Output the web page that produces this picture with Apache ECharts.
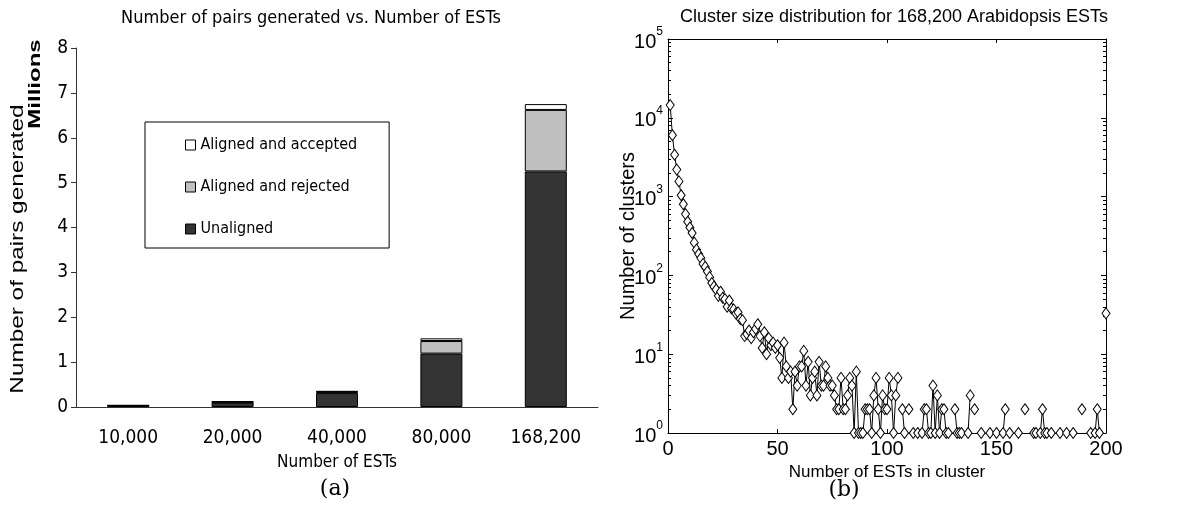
<!DOCTYPE html>
<html>
<head>
<meta charset="utf-8">
<script src="https://cdn.jsdelivr.net/npm/echarts@6/dist/echarts.min.js"></script>
<style>
  html, body { margin: 0; padding: 0; background: #fff; }
  #chart-container { width: 1198px; height: 506px; }
</style>
</head>
<body>
<div id="chart-container"></div>
<script>
// (a) pairs generated, in millions
var estCounts = ['10,000', '20,000', '40,000', '80,000', '168,200'];
var unaligned = [0.03, 0.10, 0.31, 1.19, 5.25];
var alignedRejected = [0.005, 0.015, 0.03, 0.28, 1.37];
var alignedAccepted = [0.002, 0.005, 0.015, 0.06, 0.13];

// (b) number of clusters for cluster sizes 1..200 (0 = none of that size)
var clusterCounts = [
  14500, 6000, 3400, 2200, 1560, 1040, 800, 600, 480, 405, 345, 260, 212, 187, 166, 140, 128, 112, 95, 80,
  72, 66, 55, 62, 52, 50, 40, 48, 38, 37, 33, 34, 28, 27, 17, 18, 20, 16, 19, 21,
  24, 17, 12, 19, 10, 16, 13, 14, 12, 13, 9, 5, 14, 7, 5, 6, 2, 6, 4, 7,
  7, 11, 4, 8, 3, 5, 6, 3, 8, 4, 4, 7, 5, 4, 4, 3, 2, 2, 5, 2,
  2, 3, 5, 4, 1, 6, 1, 1, 1, 2, 2, 2, 1, 3, 5, 2, 1, 3, 2, 2,
  5, 3, 1, 3, 5, 0, 2, 1, 0, 2, 0, 1, 0, 1, 0, 1, 2, 2, 1, 1,
  4, 1, 3, 1, 2, 2, 1, 1, 0, 0, 2, 1, 1, 1, 0, 0, 1, 3, 0, 2,
  0, 0, 1, 0, 0, 0, 1, 0, 0, 1, 0, 0, 1, 2, 0, 1, 0, 0, 0, 1,
  0, 0, 2, 0, 0, 0, 1, 1, 0, 1, 2, 1, 1, 0, 1, 0, 0, 0, 1, 0,
  0, 1, 0, 0, 1, 0, 0, 0, 2, 0, 0, 0, 1, 0, 1, 2, 1, 0, 0, 33
];

var narrow = "'Liberation Sans Narrow', 'DejaVu Sans Condensed', sans-serif";
var sans = "'Liberation Sans', Arial, sans-serif";
var serif = "'DejaVu Serif', 'Liberation Serif', serif";

var clusterData = clusterCounts.map(function (c, i) {
  return [i + 1, c > 0 ? c : '-'];
});

var dom = document.getElementById('chart-container');
var myChart = echarts.init(dom, null, { renderer: 'canvas' });

var barStyle = function (color) {
  return { color: color, borderColor: '#000', borderWidth: 1 };
};

var option = {
  animation: false,
  backgroundColor: '#fff',
  grid: [
    { left: 76, top: 48, width: 522, height: 359 },
    { left: 668, top: 39, width: 438, height: 394 }
  ],
  legend: {
    left: 145,
    top: 122,
    orient: 'vertical',
    icon: 'rect',
    itemWidth: 10,
    itemHeight: 10,
    itemGap: 24,
    padding: [14, 32, 10, 40],
    borderColor: '#000',
    borderWidth: 1,
    backgroundColor: '#fff',
    data: ['Aligned and accepted', 'Aligned and rejected', 'Unaligned'],
    itemStyle: { borderColor: '#000', borderWidth: 1 },
    textStyle: { fontFamily: narrow, fontSize: 16, color: '#000', lineHeight: 18 }
  },
  xAxis: [
    {
      type: 'category',
      gridIndex: 0,
      data: estCounts,
      name: 'Number of ESTs',
      nameLocation: 'middle',
      nameGap: 47,
      nameTextStyle: { fontFamily: narrow, fontSize: 17, color: '#000' },
      axisLine: { lineStyle: { color: '#333' } },
      axisTick: { length: 7, lineStyle: { color: '#333' } },
      axisLabel: { margin: 22, fontFamily: narrow, fontSize: 19, color: '#000' }
    },
    {
      type: 'value',
      gridIndex: 1,
      min: 0,
      max: 200,
      interval: 50,
      name: 'Number of ESTs in cluster',
      nameLocation: 'middle',
      nameGap: 25,
      nameTextStyle: { fontFamily: sans, fontSize: 17, color: '#000' },
      axisLine: { onZero: false, lineStyle: { color: '#000' } },
      axisTick: { inside: true, length: 4, lineStyle: { color: '#000' } },
      axisLabel: { margin: 6, fontFamily: sans, fontSize: 20, color: '#000' },
      splitLine: { show: false }
    },
    {
      type: 'value',
      gridIndex: 1,
      position: 'top',
      min: 0,
      max: 200,
      interval: 50,
      axisLine: { onZero: false, lineStyle: { color: '#000' } },
      axisTick: { inside: true, length: 4, lineStyle: { color: '#000' } },
      axisLabel: { show: false },
      splitLine: { show: false }
    }
  ],
  yAxis: [
    {
      type: 'value',
      gridIndex: 0,
      min: 0,
      max: 8,
      interval: 1,
      axisLine: { show: true, lineStyle: { color: '#333' } },
      axisTick: { show: true, length: 5, lineStyle: { color: '#333' } },
      axisLabel: { margin: 8, fontFamily: narrow, fontSize: 19, color: '#000' },
      splitLine: { show: false }
    },
    {
      type: 'log',
      logBase: 10,
      gridIndex: 1,
      min: 1,
      max: 100000,
      splitNumber: 5,
      name: 'Number of clusters',
      nameLocation: 'middle',
      nameGap: 30,
      nameMoveOverlap: false,
      nameTextStyle: { fontFamily: sans, fontSize: 20, color: '#000' },
      axisLine: { show: true, onZero: false, lineStyle: { color: '#000' } },
      axisTick: { show: true, inside: true, length: 5, lineStyle: { color: '#000' } },
      minorTick: { show: true, splitNumber: 9, length: 3, lineStyle: { color: '#000' } },
      axisLabel: {
        margin: 5,
        formatter: function (v) {
          return '{b|10}{s|' + Math.round(Math.log10(v)) + '}';
        },
        rich: {
          b: { fontFamily: sans, fontSize: 20, color: '#000', lineHeight: 26, verticalAlign: 'bottom' },
          s: { fontFamily: sans, fontSize: 12, color: '#000', lineHeight: 26, verticalAlign: 'top' }
        }
      },
      splitLine: { show: false }
    },
    {
      type: 'log',
      logBase: 10,
      gridIndex: 1,
      position: 'right',
      min: 1,
      max: 100000,
      splitNumber: 5,
      axisLine: { show: true, onZero: false, lineStyle: { color: '#000' } },
      axisTick: { show: true, inside: true, length: 5, lineStyle: { color: '#000' } },
      minorTick: { show: true, splitNumber: 9, length: 3, lineStyle: { color: '#000' } },
      axisLabel: { show: false },
      splitLine: { show: false }
    }
  ],
  series: [
    {
      name: 'Unaligned',
      type: 'bar',
      stack: 'pairs',
      xAxisIndex: 0,
      yAxisIndex: 0,
      barWidth: 42,
      data: unaligned,
      itemStyle: barStyle('#333333')
    },
    {
      name: 'Aligned and rejected',
      type: 'bar',
      stack: 'pairs',
      xAxisIndex: 0,
      yAxisIndex: 0,
      barWidth: 42,
      data: alignedRejected,
      itemStyle: barStyle('#c0c0c0')
    },
    {
      name: 'Aligned and accepted',
      type: 'bar',
      stack: 'pairs',
      xAxisIndex: 0,
      yAxisIndex: 0,
      barWidth: 42,
      data: alignedAccepted,
      itemStyle: barStyle('#ffffff')
    },
    {
      name: 'Clusters',
      type: 'line',
      xAxisIndex: 1,
      yAxisIndex: 1,
      data: clusterData,
      connectNulls: false,
      clip: false,
      showAllSymbol: true,
      symbol: 'diamond',
      symbolSize: [8, 11],
      itemStyle: { color: '#fff', borderColor: '#000', borderWidth: 1 },
      lineStyle: { color: '#000', width: 1 }
    }
  ],
  graphic: [
    {
      type: 'text', x: 311, y: 18,
      style: { text: 'Number of pairs generated vs. Number of ESTs', align: 'center', verticalAlign: 'middle', font: '18px ' + narrow, fill: '#000' }
    },
    {
      type: 'text', x: 894, y: 17,
      style: { text: 'Cluster size distribution for 168,200 Arabidopsis ESTs', align: 'center', verticalAlign: 'middle', font: '18px ' + sans, fill: '#000' }
    },
    {
      type: 'text', x: 18, y: 249, rotation: Math.PI / 2, scaleX: 1.28,
      style: { text: 'Number of pairs generated', align: 'center', verticalAlign: 'middle', font: '19px ' + sans, fill: '#000' }
    },
    {
      type: 'text', x: 36, y: 84, rotation: Math.PI / 2, scaleX: 1.5,
      style: { text: 'Millions', align: 'center', verticalAlign: 'middle', font: 'bold 16px ' + sans, fill: '#000' }
    },
    {
      type: 'text', x: 335, y: 489,
      style: { text: '(a)', align: 'center', verticalAlign: 'middle', font: '22px ' + serif, fill: '#000' }
    },
    {
      type: 'text', x: 844, y: 490,
      style: { text: '(b)', align: 'center', verticalAlign: 'middle', font: '22px ' + serif, fill: '#000' }
    }
  ]
};

myChart.setOption(option);
window.addEventListener('resize', myChart.resize);
</script>
</body>
</html>
